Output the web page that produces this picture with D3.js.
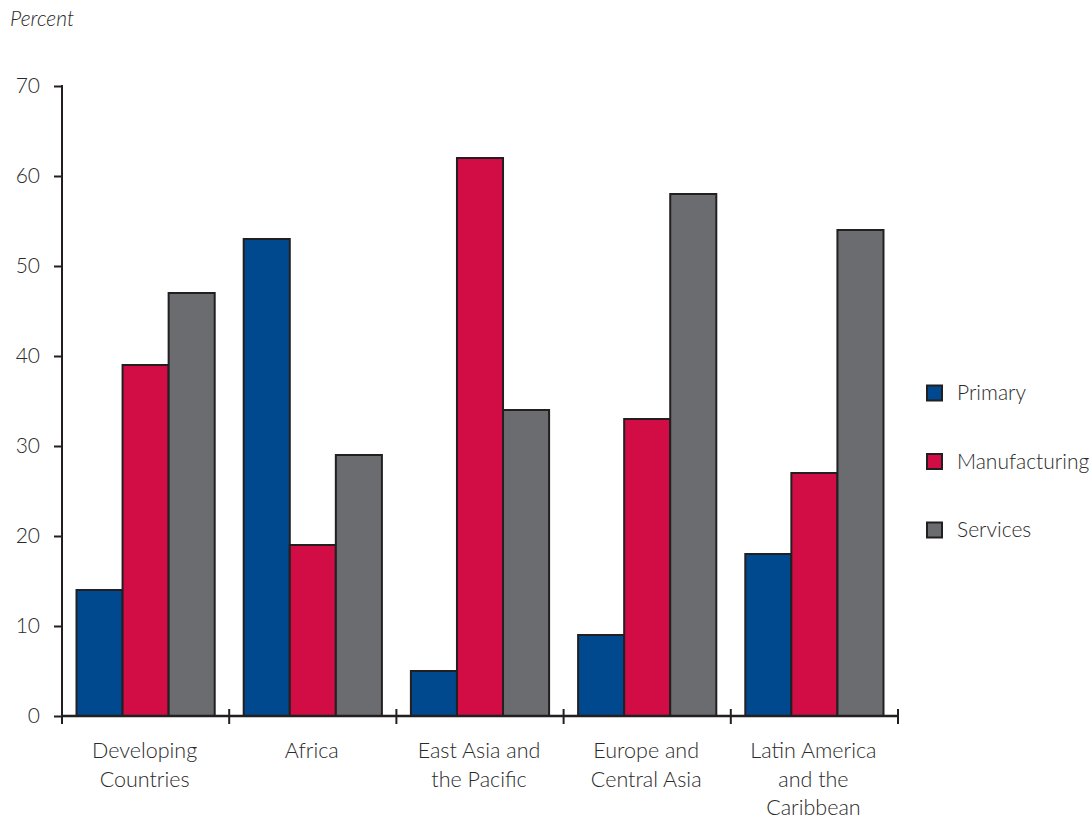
<!DOCTYPE html>
<html>
<head>
<meta charset="utf-8">
<script src="https://cdn.jsdelivr.net/npm/d3@7"></script>
<style>
  html, body { margin: 0; padding: 0; background: #fff; }
  svg { display: block; font-family: Lato, "Open Sans", sans-serif; font-weight: 300; }
</style>
</head>
<body>
<svg id="chart" width="1091" height="820"></svg>
<script>
// Regions (category labels split into lines)
const categories = ["Developing Countries", "Africa", "East Asia and the Pacific", "Europe and Central Asia", "Latin America and the Caribbean"];
const categoryLines = [["Developing", "Countries"], ["Africa"], ["East Asia and", "the Pacific"], ["Europe and", "Central Asia"], ["Latin America", "and the", "Caribbean"]];
const seriesNames = ["Primary", "Manufacturing", "Services"];
const primary = [14, 53, 5, 9, 18];
const manufacturing = [39, 19, 62, 33, 27];
const services = [47, 29, 34, 58, 54];
const yTicks = [0, 10, 20, 30, 40, 50, 60, 70];
const colors = ["#00498f", "#d20d45", "#6b6c70"];

const seriesValues = [primary, manufacturing, services];
const svg = d3.select("#chart");
const plotLeft = 62, plotRight = 898, plotTop = 86, plotBottom = 716;
const textColor = "#2a2a2a";
const axisColor = "#231f20";

const x0 = d3.scaleBand().domain(categories).range([plotLeft, plotRight]).padding(0);
const bw = x0.bandwidth();
const x1 = d3.scaleBand().domain(seriesNames).range([14.5, bw - 14.5]).padding(0);
const y = d3.scaleLinear().domain([0, 70]).range([plotBottom, plotTop]);

// Y axis label
svg.append("text")
  .attr("x", 10).attr("y", 26)
  .attr("font-style", "italic")
  .attr("font-size", 21)
  .attr("fill", textColor)
  .text("Percent");

// Bars
const groups = svg.append("g").selectAll("g")
  .data(categories)
  .join("g")
  .attr("transform", d => `translate(${x0(d)},0)`);

groups.selectAll("rect")
  .data((c, i) => seriesNames.map((s, j) => ({ s, v: seriesValues[j][i], j })))
  .join("rect")
  .attr("x", d => x1(d.s))
  .attr("y", d => y(d.v))
  .attr("width", x1.bandwidth())
  .attr("height", d => y(0) - y(d.v))
  .attr("fill", d => colors[d.j])
  .attr("stroke", axisColor)
  .attr("stroke-width", 2);

// Y axis
const yAxis = svg.append("g")
  .attr("transform", `translate(${plotLeft},0)`)
  .call(d3.axisLeft(y).tickValues(yTicks).tickSize(8).tickPadding(14).tickFormat(d3.format("d")));
yAxis.select(".domain").remove();
yAxis.selectAll(".tick line").attr("stroke", axisColor).attr("stroke-width", 2);
yAxis.selectAll(".tick text").attr("fill", textColor).attr("font-size", 21)
  .attr("font-family", "Lato, 'Open Sans', sans-serif").attr("font-weight", 300);
svg.append("line")
  .attr("x1", plotLeft).attr("x2", plotLeft)
  .attr("y1", plotTop - 1).attr("y2", plotBottom + 8)
  .attr("stroke", axisColor).attr("stroke-width", 2);

// X axis baseline and category separators
svg.append("line")
  .attr("x1", plotLeft).attr("x2", plotRight + 1)
  .attr("y1", plotBottom).attr("y2", plotBottom)
  .attr("stroke", axisColor).attr("stroke-width", 2.5);
const boundaries = categories.map(c => x0(c)).concat([x0(categories[categories.length - 1]) + bw]).slice(1);
svg.append("g").selectAll("line")
  .data(boundaries)
  .join("line")
  .attr("x1", d => d).attr("x2", d => d)
  .attr("y1", plotBottom - 7).attr("y2", plotBottom + 8)
  .attr("stroke", axisColor).attr("stroke-width", 2);

// Category labels
const labels = svg.append("g").selectAll("text")
  .data(categories)
  .join("text")
  .attr("x", d => x0(d) + bw / 2 - 1)
  .attr("y", 758)
  .attr("text-anchor", "middle")
  .attr("font-size", 21.5)
  .attr("fill", textColor);
labels.selectAll("tspan")
  .data((d, i) => categoryLines[i])
  .join("tspan")
  .attr("x", function() { return this.parentNode.getAttribute("x"); })
  .attr("dy", (d, i) => i === 0 ? 0 : 28.5)
  .text(d => d);

// Legend
const legend = svg.append("g").selectAll("g")
  .data(seriesNames)
  .join("g")
  .attr("transform", (d, i) => `translate(927,${393 + i * 68.5})`);
legend.append("rect")
  .attr("x", 0).attr("y", -7.5)
  .attr("width", 15).attr("height", 15)
  .attr("fill", (d, i) => colors[i])
  .attr("stroke", axisColor)
  .attr("stroke-width", 2);
legend.append("text")
  .attr("x", 30).attr("y", 0)
  .attr("dy", "0.35em")
  .attr("font-size", 21)
  .attr("fill", textColor)
  .text(d => d);
</script>
</body>
</html>
